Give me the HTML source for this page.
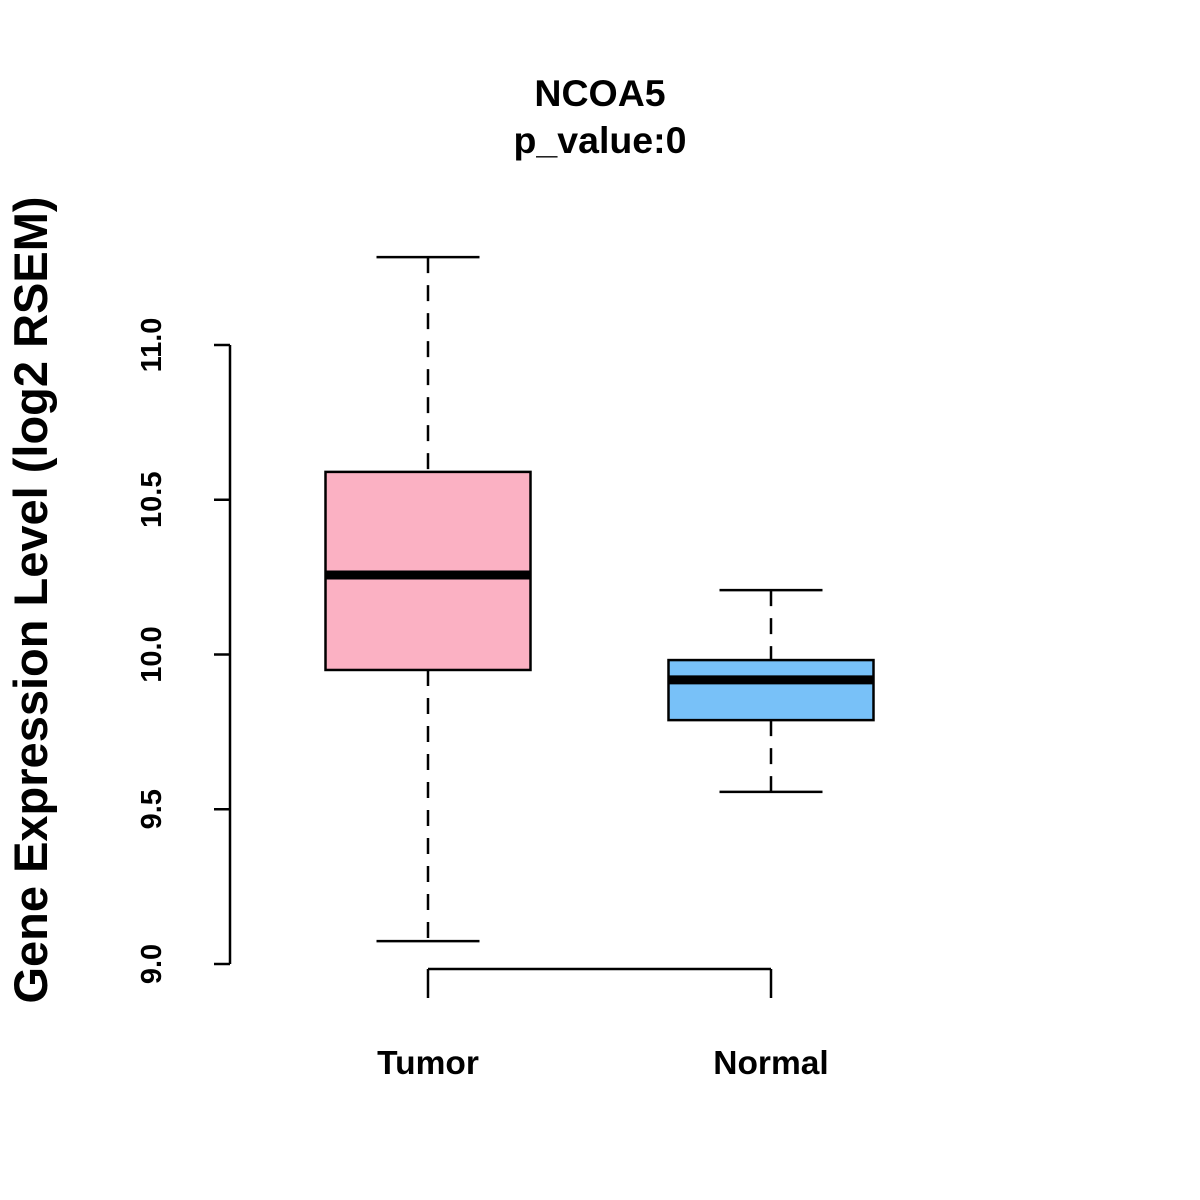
<!DOCTYPE html>
<html><head><meta charset="utf-8"><style>body{margin:0;background:#fff}svg{display:block}text{font-family:"Liberation Sans",Arial,sans-serif;font-weight:bold}</style></head>
<body>
<svg id="chart" width="1200" height="1200" xmlns="http://www.w3.org/2000/svg">
<text x="600" y="106" font-size="37.5" text-anchor="middle">NCOA5</text>
<text x="600" y="153" font-size="37.5" text-anchor="middle">p_value:0</text>
<text transform="translate(47,600) rotate(-90)" font-size="47" text-anchor="middle">Gene Expression Level (log2 RSEM)</text>
<g id="yaxis"></g>
<g id="boxes"></g>
<g id="xaxis"></g>
</svg>
<script>
const categories=["Tumor","Normal"];
const whiskerLow=[9.074,9.556];
const q1=[9.950,9.788];
const medians=[10.257,9.918];
const q3=[10.590,9.982];
const whiskerHigh=[11.284,10.208];
const yTicks=[9.0,9.5,10.0,10.5,11.0];
const yTickLabels=["9.0","9.5","10.0","10.5","11.0"];
const colors=["#FBB1C3","#78C1F8"];
const NS="http://www.w3.org/2000/svg";
function y(v){return 964-(v-9)*309.5;}
function x(i){return 428+i*343;}
function mk(tag,attrs,parent){const e=document.createElementNS(NS,tag);for(const k in attrs)e.setAttribute(k,attrs[k]);parent.appendChild(e);return e;}
const ya=document.getElementById('yaxis');
let l=mk('line',{x1:230,x2:230,y1:y(yTicks[yTicks.length-1]),y2:y(yTicks[0]),stroke:'#000','stroke-width':2.5},ya);


yTicks.forEach((t,i)=>{
 const tk=mk('line',{x1:214,x2:230,y1:y(t),y2:y(t),stroke:'#000','stroke-width':2.5},ya);
 
 
 const tx=mk('text',{transform:`translate(161,${y(t)}) rotate(-90)`,'font-size':29,'text-anchor':'middle'},ya);
 tx.textContent=yTickLabels[i];
 
 
});
const bx=document.getElementById('boxes');
categories.forEach((c,i)=>{
 const cx=x(i),hw=102.5,cw=51.5;
 const g=mk('g',{},bx);
 
 
 mk('line',{x1:cx,x2:cx,y1:y(whiskerHigh[i]),y2:y(q3[i]),stroke:'#000','stroke-width':2.5,'stroke-dasharray':'16,12'},g);
 mk('line',{x1:cx,x2:cx,y1:y(q1[i]),y2:y(whiskerLow[i]),stroke:'#000','stroke-width':2.5,'stroke-dasharray':'16,12'},g);
 mk('line',{x1:cx-cw,x2:cx+cw,y1:y(whiskerHigh[i]),y2:y(whiskerHigh[i]),stroke:'#000','stroke-width':2.5},g);
 mk('line',{x1:cx-cw,x2:cx+cw,y1:y(whiskerLow[i]),y2:y(whiskerLow[i]),stroke:'#000','stroke-width':2.5},g);
 mk('rect',{x:cx-hw,y:y(q3[i]),width:2*hw,height:y(q1[i])-y(q3[i]),fill:colors[i],stroke:'#000','stroke-width':2.5},g);
 mk('line',{x1:cx-hw,x2:cx+hw,y1:y(medians[i]),y2:y(medians[i]),stroke:'#000','stroke-width':9},g);
});
const xa=document.getElementById('xaxis');
const xl=mk('line',{x1:x(0),x2:x(categories.length-1),y1:969,y2:969,stroke:'#000','stroke-width':2.5},xa);


categories.forEach((c,i)=>{
 const tk=mk('line',{x1:x(i),x2:x(i),y1:969,y2:998,stroke:'#000','stroke-width':2.5},xa);
 
 
 const tx=mk('text',{x:x(i),y:1074,'font-size':33.5,'text-anchor':'middle'},xa);
 tx.textContent=c;
 
 
});
</script>
</body></html>
